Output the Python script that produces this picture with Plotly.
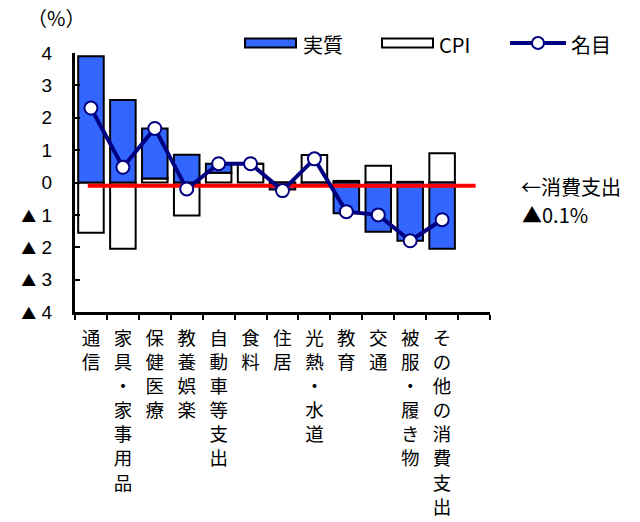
import plotly.graph_objects as go

# Categories of household spending
categories = ["通信", "家具・家事用品", "保健医療", "教養娯楽", "自動車等支出", "食料",
              "住居", "光熱・水道", "教育", "交通", "被服・履き物", "その他の消費支出"]
# Contribution values (%)
real = [3.9, 2.55, 1.55, 0.86, 0.28, 0.0, -0.22, -0.1, -0.95, -1.52, -1.8, -2.05]
cpi = [-1.55, -2.05, 0.12, -1.02, 0.3, 0.58, 0.0, 0.85, 0.05, 0.52, 0.02, 0.9]
nominal = [2.3, 0.47, 1.67, -0.2, 0.58, 0.58, -0.25, 0.73, -0.9, -1.0, -1.8, -1.15]
total_spending = -0.1

y_ticks = [4, 3, 2, 1, 0, -1, -2, -3, -4]
y_ticktext = ["4", "3", "2", "1", "0", "▲ 1", "▲ 2", "▲ 3", "▲ 4"]

BLUE = "#3366FF"
NAVY = "#000080"
FONT = "Liberation Sans, Noto Sans CJK JP, sans-serif"
JFONT = "Noto Sans CJK JP, sans-serif"

idx = list(range(len(categories)))
vertical_labels = ["<br>".join(list(c)) for c in categories]
tri = '<span style="font-family:Noto Sans CJK JP;font-size:15px">▲</span>'
y_labels = [t.replace("▲", tri) for t in y_ticktext]

fig = go.Figure()
fig.add_trace(go.Bar(x=idx, y=cpi, name="CPI", marker=dict(color="white", line=dict(color="black", width=2)),
                     width=0.8))
fig.add_trace(go.Bar(x=idx, y=real, name="実質", marker=dict(color=BLUE, line=dict(color="black", width=2)),
                     width=0.8))
# Total consumption spending line
fig.add_trace(go.Scatter(x=[-0.1, 12.05], y=[total_spending, total_spending], mode="lines",
                         line=dict(color="red", width=4), hoverinfo="skip"))
fig.add_trace(go.Scatter(x=idx, y=nominal, name="名目", mode="lines+markers",
                         line=dict(color=NAVY, width=4),
                         marker=dict(size=13, color="white", line=dict(color=NAVY, width=2))))

# plot area in pixels
L, R, T, B = 75, 490, 53, 312
W, H = 640, 522


def px(xp):
    return (xp - L) / (R - L)


def py(yp):
    return (B - yp) / (B - T)


shapes = [
    dict(type="rect", xref="paper", yref="paper", x0=px(245), x1=px(296), y0=py(47.5), y1=py(38.5),
         fillcolor=BLUE, line=dict(color="black", width=2)),
    dict(type="rect", xref="paper", yref="paper", x0=px(382), x1=px(433), y0=py(47.5), y1=py(38.5),
         fillcolor="white", line=dict(color="black", width=2)),
    dict(type="line", xref="paper", yref="paper", x0=px(510), x1=px(566), y0=py(43), y1=py(43),
         line=dict(color=NAVY, width=4)),
    dict(type="circle", xref="paper", yref="paper", x0=px(532), x1=px(544), y0=py(49), y1=py(37),
         fillcolor="white", line=dict(color=NAVY, width=2)),
]

annotations = [
    dict(text="実質", x=px(301), y=py(44), xanchor="left", yanchor="middle"),
    dict(text="CPI", x=px(437), y=py(44), xanchor="left", yanchor="middle"),
    dict(text="名目", x=px(569), y=py(44), xanchor="left", yanchor="middle"),
    dict(text="（%）", x=px(56), y=py(17), xanchor="center", yanchor="middle"),
    dict(text="←消費支出", x=px(519), y=py(186), xanchor="left", yanchor="middle"),
    dict(text="▲0.1%", x=px(520), y=py(214), xanchor="left", yanchor="middle"),
]
for a in annotations:
    a.update(xref="paper", yref="paper", showarrow=False, font=dict(family=JFONT, size=20, color="black"))

fig.update_layout(
    width=W, height=H,
    margin=dict(l=L, r=W - R, t=T, b=H - B, pad=0),
    barmode="relative",
    showlegend=False,
    plot_bgcolor="white", paper_bgcolor="white",
    font=dict(family=FONT, size=17, color="black"),
    shapes=shapes,
    annotations=annotations,
    xaxis=dict(range=[-0.5, 12.5], tickvals=idx, ticktext=vertical_labels, ticks="",
               showline=True, linecolor="black", linewidth=3, showgrid=False, zeroline=False,
               automargin=False,
               tickfont=dict(family=JFONT, size=18.5, color="black"), ticklabelstandoff=8,
               minor=dict(ticks="outside", tick0=-0.5, dtick=1, ticklen=5, tickwidth=2,
                          tickcolor="black", showgrid=False)),
    yaxis=dict(range=[-4, 4], tickvals=y_ticks, ticktext=y_labels, ticks="inside", ticklen=5,
               tickwidth=2, tickcolor="black", showline=True, linecolor="black", linewidth=3,
               showgrid=False, zeroline=False, ticklabelstandoff=16, automargin=False,
               tickfont=dict(family=FONT, size=19, color="black")),
)

fig.write_html("out.html")
